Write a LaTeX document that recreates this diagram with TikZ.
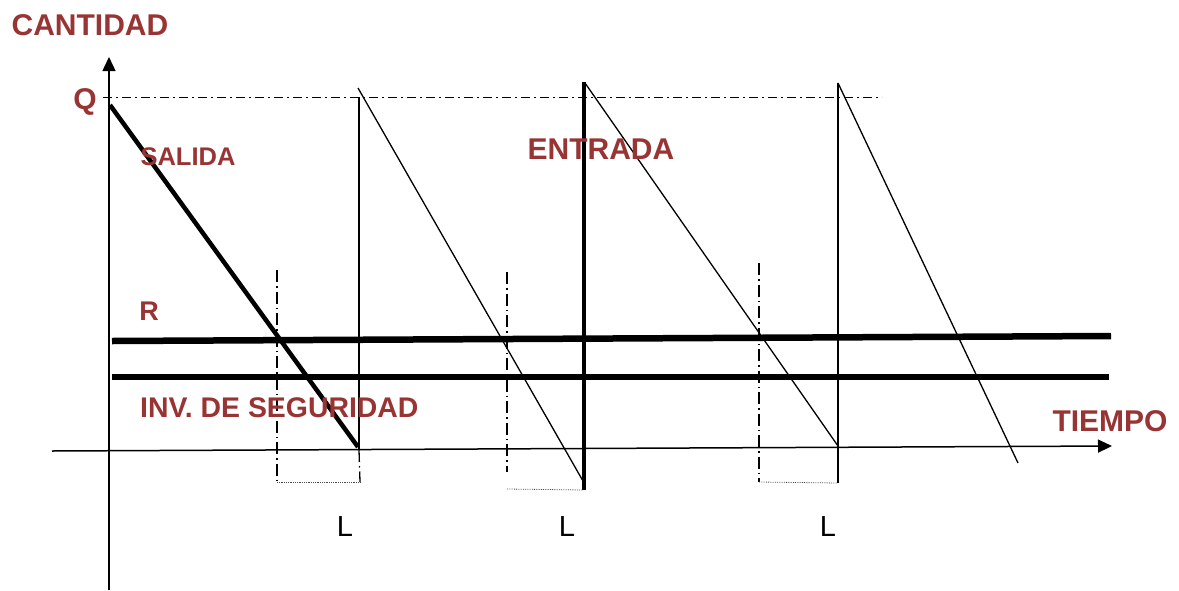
\documentclass[tikz,border=0pt]{standalone}
\usepackage{fontspec}
\setmainfont{Liberation Sans}
\usetikzlibrary{arrows.meta}
\definecolor{lbl}{HTML}{983434}
\begin{document}
\begin{tikzpicture}[x=1pt,y=-1pt,
  lab/.style={text=lbl,font=\bfseries\fontsize{30}{30}\selectfont,inner sep=0pt},
  llab/.style={font=\fontsize{29}{29}\selectfont,inner sep=0pt},
  axis/.style={line width=1.5pt,-{Triangle[length=14pt,width=13pt]}},
  saw/.style={line width=1.3pt},
  thick line/.style={line width=6.5pt},
  ddot/.style={line width=1.3pt,dash pattern=on 12pt off 4pt on 1.5pt off 4pt},
  topdd/.style={line width=0.9pt,dash pattern=on 9pt off 4pt on 2pt off 4pt},
  bdot/.style={line width=0.8pt,densely dotted,black!70}]
\useasboundingbox (0,0) rectangle (1179,590);
% coordinates
\coordinate (yb) at (109,590);
\coordinate (yt) at (109,57);
\coordinate (xl) at (52,451);
\coordinate (xr) at (1112,446);
\coordinate (qa) at (103,97);
\coordinate (qb) at (882,97);
% axes
\draw[axis] (yb) -- (yt);
\draw[axis] (xl) -- (xr);
% Q dash-dot line
\draw[topdd] (qa) -- (qb);
% R and safety stock lines
\coordinate (r1) at (112,341);
\coordinate (r2) at (1111,336);
\coordinate (s1) at (112,377);
\coordinate (s2) at (1109,377);
\draw[thick line] (r1) -- (r2);
\draw[thick line] (s1) -- (s2);
% sawtooth 1 (thick)
\coordinate (a0) at (110,105);
\coordinate (a1) at (358,447);
\draw[line width=4.5pt] (a0) -- (a1);
% vertical at 358
\coordinate (v1t) at (359,97);
\coordinate (v1m) at (359,450);
\coordinate (v1b) at (360,482);
\draw[saw] (v1t) -- (v1m);
\draw[ddot] (v1m) -- (v1b);
% sawtooth 2
\coordinate (b0) at (358,88);
\coordinate (b1) at (583,481);
\draw[saw] (b0) -- (b1);
\coordinate (v2t) at (584,82);
\coordinate (v2b) at (584,490);
\draw[line width=4.5pt] (v2t) -- (v2b);
% sawtooth 3
\coordinate (c0) at (585,83);
\coordinate (c1) at (838,446);
\draw[saw] (c0) -- (c1);
\coordinate (v3t) at (838,83);
\coordinate (v3b) at (838,483);
\draw[saw] (v3t) -- (v3b);
% sawtooth 4
\coordinate (d0) at (838,83);
\coordinate (d1) at (1018,463);
\draw[saw] (d0) -- (d1);
% reorder dash-dot verticals
\coordinate (w1t) at (277,270);
\coordinate (w1b) at (277,482);
\coordinate (w2t) at (507,272);
\coordinate (w2b) at (507,472);
\coordinate (w3t) at (759,263);
\coordinate (w3b) at (759,482);
\draw[ddot] (w1t) -- (w1b);
\draw[ddot] (w2t) -- (w2b);
\draw[ddot] (w3t) -- (w3b);
% dotted lead-time brackets
\draw[bdot] (w1b) -- (v1b);
\coordinate (w2bb) at (507,489);
\draw[bdot] (w2bb) -- (v2b);
\draw[bdot] (w3b) -- (v3b);
% labels
\node[lab] (cant) at (90,25) {CANTIDAD};
\node[lab] (q) at (85,102) {Q};
\node[lab,font=\bfseries\fontsize{25.5}{25.5}\selectfont] (sal) at (188,157) {SALIDA};
\node[lab] (ent) at (601,149) {ENTRADA};
\node[lab,font=\bfseries\fontsize{27}{27}\selectfont] (r) at (149,311) {R};
\node[lab,font=\bfseries\fontsize{28.4}{28.4}\selectfont,anchor=west] (inv) at (140,408) {INV. DE SEGURIDAD};
\node[lab] (tie) at (1110,421) {TIEMPO};
\node[llab] (l1) at (345,527) {L};
\node[llab] (l2) at (567,527) {L};
\node[llab] (l3) at (828,527) {L};
\end{tikzpicture}
\end{document}
